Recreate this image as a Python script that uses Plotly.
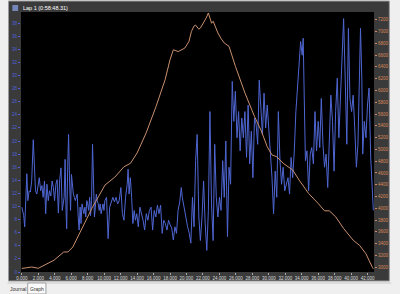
import plotly.graph_objects as go

# ---- data ----
speed_km = [0.0, 0.23, 0.35, 0.5, 0.61, 0.73, 0.89, 1.04, 1.2, 1.39, 1.51, 1.66, 1.82, 1.97, 2.12, 2.29,
            2.44, 2.59, 2.75, 2.9, 3.05, 3.21, 3.36, 3.52, 3.68, 3.83, 3.98, 4.14, 4.29, 4.44, 4.6, 4.76,
            4.91,
            5.14, 5.26, 5.37, 5.45, 5.57, 5.68, 5.8, 5.92, 6.03, 6.15, 6.26, 6.38, 6.5, 6.61, 6.73, 6.85,
            6.96, 7.08, 7.19, 7.31, 7.42, 7.54, 7.66, 7.77, 7.89, 8.0, 8.12, 8.24, 8.35, 8.47, 8.59, 8.7,
            8.82, 8.93, 9.05, 9.17, 9.28, 9.4, 9.51, 9.63, 9.74, 9.86, 9.98, 10.09,
            10.29, 10.48, 10.67, 10.87, 11.06, 11.25, 11.44, 11.64, 11.83, 12.03, 12.22, 12.41, 12.6,
            12.8, 12.91, 13.03, 13.18, 13.34, 13.49, 13.65, 13.8, 13.96, 14.15, 14.34, 14.54, 14.73,
            14.92, 15.12, 15.31, 15.5, 15.7, 15.89, 16.08, 16.28, 16.47, 16.66, 16.86, 17.05, 17.24,
            17.44, 17.63, 17.82, 18.02, 18.21, 18.4, 18.6, 18.79, 18.98, 19.18, 19.37, 19.49, 19.68,
            19.83, 19.99, 20.14, 20.34, 20.53,
            20.73, 20.92, 21.11, 21.3, 21.5, 21.69, 21.89, 22.08, 22.27, 22.47, 22.66, 22.85, 23.04,
            23.24, 23.43, 23.62, 23.82, 24.01, 24.2, 24.4, 24.59, 24.78, 24.98, 25.17, 25.36, 25.56,
            25.75, 25.94, 26.14, 26.33, 26.52, 26.72, 26.91, 27.1, 27.3, 27.49, 27.68, 27.88, 28.07,
            28.26, 28.46, 28.65, 28.84, 29.04, 29.23, 29.42, 29.62, 29.81, 30.0, 30.2, 30.39, 30.58,
            30.78, 30.97, 31.16, 31.36, 31.55, 31.74, 31.94,
            32.33, 32.52, 32.71, 32.9, 33.1, 33.29, 33.48, 33.68, 33.87, 34.06, 34.18, 34.3, 34.45,
            34.64, 34.84, 35.03, 35.22, 35.42, 35.61, 35.8, 36.0, 36.19, 36.38, 36.58, 36.77, 36.96,
            37.16, 37.35, 37.54, 37.74, 37.93, 38.12, 38.32, 38.51, 38.7, 38.9, 39.09, 39.28, 39.48,
            39.67, 39.86, 40.06, 40.25, 40.44, 40.64, 40.83, 41.02, 41.14, 41.3, 41.41, 41.6, 41.8,
            41.99, 42.18, 42.38, 42.57, 42.7]
speed = [9.9, 8.6, 6.9, 12.9, 15.0, 10.9, 12.4, 12.2, 13.9, 20.2, 16.9, 12.4, 11.9, 13.4, 14.4, 12.4,
         13.2, 11.4, 13.9, 8.9, 13.4, 10.9, 12.4, 11.6, 13.9, 12.9, 10.9, 13.4, 14.1, 9.0, 14.1, 15.9,
         9.4,
         11.4, 17.2, 9.4, 6.6, 15.9, 21.0, 13.9, 9.4, 14.9, 12.4, 11.9, 11.4, 10.9, 11.4, 11.9, 8.4,
         6.4, 9.9, 7.4, 10.4, 9.4, 8.9, 9.9, 8.4, 10.9, 10.4, 9.4, 11.4, 8.6, 10.9, 19.5, 10.9,
         8.4, 9.9, 11.9, 10.9, 10.4, 9.4, 10.4, 8.9, 9.9, 10.4, 9.4, 10.9,
         11.4, 5.1, 9.9, 10.9, 11.4, 10.7, 11.4, 10.4, 10.9, 12.9, 8.9, 7.9, 11.4,
         13.4, 15.7, 11.9, 14.4, 11.4, 7.4, 9.4, 7.9, 8.9, 6.9, 9.9, 8.9, 7.9,
         6.4, 8.9, 7.9, 9.4, 9.9, 6.4, 9.4, 8.4, 10.2, 8.9, 10.2, 5.9, 7.9,
         7.4, 6.4, 7.9, 7.2, 6.7, 4.9, 6.9, 5.9, 9.4, 10.7, 12.9, 11.4, 9.9,
         8.9, 7.9, 6.9, 5.9, 4.4,
         11.4, 6.9, 17.0, 21.0, 8.4, 4.8, 8.4, 13.9, 7.4, 3.3, 9.4, 24.5, 10.4,
         4.8, 19.5, 11.4, 8.4, 11.4, 9.4, 17.0, 11.4, 20.0, 5.4, 16.0, 13.4, 29.1,
         23.0, 27.6, 20.5, 24.5, 18.5, 23.5, 20.5, 24.5, 17.5, 25.5, 16.5, 21.5, 14.4,
         23.5, 22.5, 19.5, 29.3, 24.0, 21.0, 27.3, 22.0, 25.5, 21.0, 18.0, 14.4, 8.9,
         15.4, 11.4, 24.5, 17.0, 13.4, 16.0, 12.4,
         14.4, 11.9, 17.5, 14.4, 18.5, 24.5, 28.1, 32.1, 35.2, 33.1, 35.7, 27.0, 17.0,
         18.5, 12.4, 18.0, 19.0, 16.5, 24.5, 18.5, 23.0, 19.0, 26.5, 19.5, 16.0, 18.0,
         12.9, 20.0, 27.0, 23.0, 15.4, 24.5, 29.6, 20.5, 26.5, 32.1, 38.7, 29.6, 19.5,
         37.2, 26.5, 24.5, 27.0, 22.0, 16.0, 19.5, 32.1, 37.2, 29.6, 18.0, 23.0, 20.5,
         25.5, 28.1, 17.5, 13.4, 9.4]

alt_km = [0.0, 1.2, 2.0, 3.1, 3.9, 5.1, 5.6, 6.2, 7.0, 7.8, 8.6, 9.3, 10.1, 11.3, 12.4, 13.2, 14.0,
          15.1, 16.3, 17.4, 18.0, 18.4, 19.0, 19.8, 20.3, 20.6, 20.9, 21.1, 21.5, 21.7, 22.1, 22.4,
          22.66, 22.9, 23.05, 23.24, 23.5, 23.82, 24.2, 24.59, 25.17, 25.95, 27.11, 28.27, 29.04,
          29.81, 30.39, 30.97, 31.75, 32.91, 33.68, 34.84, 36.0, 36.77, 37.35, 38.13, 39.1, 40.26,
          41.03, 41.8, 42.58, 42.7]
alt = [2980, 3005, 2983, 3068, 3119, 3260, 3260, 3345, 3578, 3800, 4025, 4195, 4395, 4530, 4705,
       4764, 4939, 5279, 5726, 6180, 6520, 6690, 6660, 6719, 6830, 7000, 7090, 7110, 7040, 7060,
       7145, 7230, 7315, 7200, 7140, 7175, 7080, 6975, 6880, 6805, 6748, 6408, 5954, 5556, 5330,
       5046, 4905, 4876, 4764, 4650, 4480, 4252, 4082, 3958, 3958, 3855, 3656, 3458, 3372, 3230,
       3000, 2975]

x_ticks = list(range(0, 43, 2))
x_tick_text = [f"{v}.000" for v in x_ticks]
left_ticks = list(range(0, 40, 2))
right_ticks = list(range(3000, 7201, 200))

title_text = "Lap 1 (0:58:48.31)"
tab_labels = ["Journal", "Graph"]

# ---- figure ----
W, H = 400, 294
ML, MR, MT, MB = 14, 18, 12, 22
PW, PH = W - ML - MR, H - MT - MB


def px(x):
    return (x - ML) / PW


def py(y):
    return (H - MB - y) / PH


FONT = "Liberation Sans"
BLUE = "#4f66d2"
ORANGE = "#c9906e"

fig = go.Figure()
fig.add_trace(go.Scatter(x=speed_km, y=speed, mode="lines",
                         line=dict(color=BLUE, width=1), yaxis="y", hoverinfo="skip"))
fig.add_trace(go.Scatter(x=alt_km, y=alt, mode="lines",
                         line=dict(color=ORANGE, width=1), yaxis="y2", hoverinfo="skip"))

shapes = [
    # outer window border
    dict(type="rect", xref="paper", yref="paper", x0=px(1), x1=px(398), y0=py(281), y1=py(1),
         fillcolor="#3a3a3a", line=dict(color="#9a9a9a", width=1), layer="below"),
    # black plot area
    dict(type="rect", xref="paper", yref="paper", x0=0, x1=1, y0=0, y1=1,
         fillcolor="black", line=dict(width=0), layer="below"),
    # small icon at top-left
    dict(type="rect", xref="paper", yref="paper", x0=px(5), x1=px(11), y0=py(11), y1=py(5),
         fillcolor="#7486b8", line=dict(width=0), layer="above"),
    # tab strip line
    dict(type="line", xref="paper", yref="paper", x0=px(0), x1=px(400), y0=py(283), y1=py(283),
         line=dict(color="#c8c8c8", width=1)),
    # selected "Graph" tab
    dict(type="rect", xref="paper", yref="paper", x0=px(21), x1=px(40), y0=py(294), y1=py(283),
         fillcolor="#fafafa", line=dict(color="#a0a0a0", width=1)),
]

annotations = [
    dict(text=title_text, x=px(14), y=py(8), xref="paper", yref="paper", xanchor="left",
         yanchor="middle", showarrow=False, font=dict(family=FONT, size=5.5, color="#ffffff")),
    dict(text=tab_labels[0], x=px(11), y=py(288.5), xref="paper", yref="paper", xanchor="center",
         yanchor="middle", showarrow=False, font=dict(family=FONT, size=5, color="#333333")),
    dict(text=tab_labels[1], x=px(30.5), y=py(288.5), xref="paper", yref="paper", xanchor="center",
         yanchor="middle", showarrow=False, font=dict(family=FONT, size=5, color="#333333")),
]

fig.update_layout(
    width=W, height=H,
    margin=dict(l=ML, r=MR, t=MT, b=MB, pad=0),
    paper_bgcolor="#efefef",
    plot_bgcolor="black",
    showlegend=False,
    shapes=shapes,
    annotations=annotations,
    xaxis=dict(range=[-0.1, 42.78], tickvals=x_ticks, ticktext=x_tick_text, tickangle=0,
               tickfont=dict(family=FONT, size=4.5, color="#d8d8d8"), ticks="outside",
               ticklen=1.5, tickcolor="#aaaaaa", showgrid=False, zeroline=False, showline=False,
               fixedrange=True),
    yaxis=dict(range=[0, 39.7], tickvals=left_ticks,
               tickfont=dict(family=FONT, size=4.5, color="#4f63d8"), ticks="outside",
               ticklen=2, tickcolor="#4f63d8", showgrid=False, zeroline=False, showline=False,
               fixedrange=True),
    yaxis2=dict(range=[2920, 7331], tickvals=right_ticks, overlaying="y", side="right",
                tickfont=dict(family=FONT, size=4.5, color="#d8895a"), ticks="outside",
                ticklen=2, tickcolor="#d8895a", showgrid=False, zeroline=False, showline=False,
                fixedrange=True),
)

fig.write_html("out.html")
